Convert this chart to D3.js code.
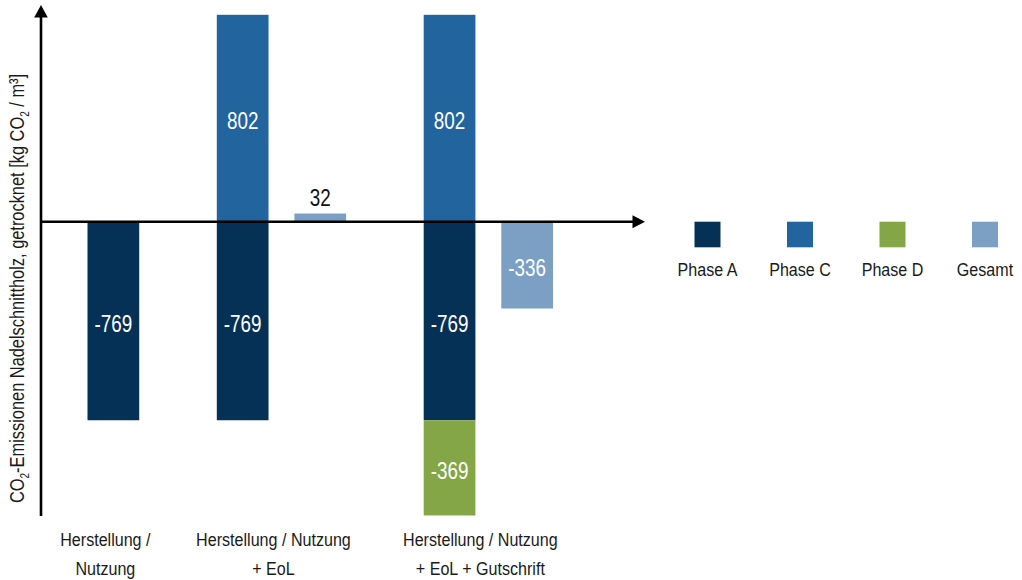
<!DOCTYPE html>
<html>
<head>
<meta charset="utf-8">
<script src="https://cdn.jsdelivr.net/npm/d3@7"></script>
<style>
  html, body { margin: 0; padding: 0; background: #ffffff; }
  svg { display: block; }
</style>
</head>
<body>
<svg id="chart" width="1022" height="580"></svg>
<script>
// ---------------- data ----------------
const categories = [
  ["Herstellung /", "Nutzung"],
  ["Herstellung / Nutzung", "+ EoL"],
  ["Herstellung / Nutzung", "+ EoL + Gutschrift"]
];
const phaseA = [-769, -769, -769];
const phaseC = [0, 802, 802];
const phaseD = [0, 0, -369];
const gesamt = [null, 32, -336];
const seriesNames = ["Phase A", "Phase C", "Phase D", "Gesamt"];
const seriesColors = ["#053156", "#22649E", "#84A646", "#7BA0C4"];
const axisMin = -1140, axisMax = 840;

// ---------------- setup ----------------
const FONT = "'Liberation Sans', Arial, Helvetica, sans-serif";
const svg = d3.select("#chart");

const y = d3.scaleLinear().domain([axisMin, axisMax]).range([516, 5]);

// slot layout: stacked bar, then (optional) total bar, groups separated by gaps
const slots = [];
let pos = 0, groupCenters = [];
categories.forEach((c, i) => {
  const start = pos;
  slots.push({cat: i, kind: "stack", pos: pos});
  let end = pos + 1;
  if (gesamt[i] !== null) {
    slots.push({cat: i, kind: "total", pos: pos + 1.5});
    end = pos + 2.5;
  }
  groupCenters.push((start + end) / 2);
  pos = end + 1.5;
});
const lastEnd = pos - 1.5;
const x = d3.scaleLinear().domain([0, lastEnd]).range([87.5, 553]);
const bw = x(1) - x(0);

// build rectangles
const rects = [];
slots.forEach(s => {
  const i = s.cat;
  if (s.kind === "stack") {
    const vals = [phaseA[i], phaseC[i], phaseD[i]];
    let posBase = 0, negBase = 0;
    vals.forEach((v, k) => {
      if (!v) return;
      let y0, y1;
      if (v >= 0) { y0 = posBase; y1 = posBase + v; posBase = y1; }
      else { y0 = negBase; y1 = negBase + v; negBase = y1; }
      rects.push({x: s.pos, y0, y1, v, color: seriesColors[k], inside: true});
    });
  } else {
    const v = gesamt[i];
    rects.push({x: s.pos, y0: 0, y1: v, v, color: seriesColors[3], inside: v < 0 || Math.abs(v) > 100});
  }
});

svg.append("g").selectAll("rect").data(rects).join("rect")
  .attr("x", d => x(d.x))
  .attr("width", bw)
  .attr("y", d => y(Math.max(d.y0, d.y1)))
  .attr("height", d => Math.abs(y(d.y0) - y(d.y1)))
  .attr("fill", d => d.color);

function txt(g, tx, ty, str, size, sx, color, anchor) {
  return g.append("text")
    .attr("transform", `translate(${tx},${ty}) scale(${sx},1)`)
    .attr("text-anchor", anchor || "middle")
    .attr("font-family", FONT)
    .attr("font-size", size)
    .attr("fill", color)
    .text(str);
}

// value labels (plain hyphen minus as in the original)
const fmt = v => String(v);
const lbl = svg.append("g");
rects.forEach(d => {
  const cx = x(d.x) + bw / 2;
  if (d.inside) {
    const cy = (y(d.y0) + y(d.y1)) / 2 + 3 + 8.2;
    txt(lbl, cx, cy, fmt(d.v), 23, 0.82, "#ffffff");
  } else {
    txt(lbl, cx, y(d.y1) - 7.5, fmt(d.v), 23, 0.82, "#111111");
  }
});

// axes with arrows
const axis = svg.append("g");
const x0 = 41;
axis.append("line").attr("x1", x0).attr("x2", x0).attr("y1", 516).attr("y2", 14)
  .attr("stroke", "#000").attr("stroke-width", 2.6);
axis.append("path").attr("d", `M${x0},${y(axisMax)} L${x0 - 6.8},17.5 L${x0 + 6.8},17.5 Z`).attr("fill", "#000");
const y0px = y(0);
axis.append("line").attr("x1", x0).attr("x2", 636).attr("y1", y0px).attr("y2", y0px)
  .attr("stroke", "#000").attr("stroke-width", 2.6);
axis.append("path").attr("d", `M645,${y0px} L632.5,${y0px - 6.5} L632.5,${y0px + 6.5} Z`).attr("fill", "#000");

// category labels
const cl = svg.append("g");
categories.forEach((lines, i) => {
  const cx = x(groupCenters[i]) - 8;
  lines.forEach((ln, j) => {
    txt(cl, cx, 546 + j * 28.5, ln, 18.5, 0.87, "#1a1a1a");
  });
});

// legend
const lg = svg.append("g");
seriesNames.forEach((name, i) => {
  const lx = 694.5 + i * 92.5;
  lg.append("rect").attr("x", lx).attr("y", 221.7).attr("width", 26).attr("height", 25.6)
    .attr("fill", seriesColors[i]);
  txt(lg, lx + 13, 276, name, 18.5, 0.87, "#1a1a1a");
});

// y-axis title
const tt = svg.append("text")
  .attr("transform", "translate(23.5,288.5) rotate(-90) scale(0.80,1)")
  .attr("text-anchor", "middle")
  .attr("font-family", FONT)
  .attr("font-size", 20.5)
  .attr("fill", "#1a1a1a");
tt.append("tspan").text("CO");
tt.append("tspan").attr("font-size", 12.5).attr("dy", 5.5).text("2");
tt.append("tspan").attr("dy", -5.5).text("-Emissionen Nadelschnittholz, getrocknet [kg CO");
tt.append("tspan").attr("font-size", 12.5).attr("dy", 5.5).text("2");
tt.append("tspan").attr("dy", -5.5).text(" / m³]");
</script>
</body>
</html>
